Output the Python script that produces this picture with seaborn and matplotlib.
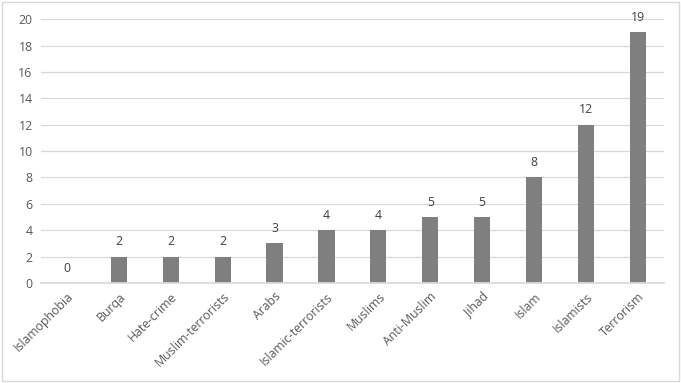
import matplotlib
matplotlib.use("Agg")
import matplotlib.pyplot as plt
import seaborn as sns
import pandas as pd
from matplotlib.patches import Rectangle

categories = ["Islamophobia", "Burqa", "Hate-crime", "Muslim-terrorists", "Arabs",
              "Islamic-terrorists", "Muslims", "Anti-Muslim", "Jihad", "Islam",
              "Islamists", "Terrorism"]
values = [0, 2, 2, 2, 3, 4, 4, 5, 5, 8, 12, 19]
yticks = [0, 2, 4, 6, 8, 10, 12, 14, 16, 18, 20]

df = pd.DataFrame({"term": categories, "count": values})

sns.set_theme(style="white")
plt.rcParams['font.family'] = ['Open Sans', 'DejaVu Sans']

fig = plt.figure(figsize=(6.81, 3.83), dpi=100)
ax = fig.add_axes([0.060, 0.261, 0.915, 0.689])

sns.barplot(data=df, x="term", y="count", color="#7f7f7f", width=0.31,
            saturation=1, ax=ax, edgecolor="none")

ax.set_ylim(0, 20)
ax.set_yticks(yticks)
ax.set_yticklabels([str(t) for t in yticks], fontsize=8.8, color="#595959")
ax.set_xlim(-0.5, len(categories) - 0.5)
ax.set_xticks(range(len(categories)))
ax.set_xticklabels(categories, rotation=45, ha="right", rotation_mode="anchor",
                   fontsize=8.8, color="#595959")
ax.tick_params(axis="both", length=0, pad=6)
ax.tick_params(axis="x", pad=5)
ax.yaxis.grid(True, color="#d9d9d9", linewidth=0.9)
ax.set_axisbelow(True)
for s in ["top", "right", "left"]:
    ax.spines[s].set_visible(False)
ax.spines["bottom"].set_color("#d9d9d9")
ax.set_xlabel("")
ax.set_ylabel("")

for i, v in enumerate(values):
    ax.annotate(str(v), (i, v), xytext=(0, 6), textcoords="offset points",
                ha="center", va="bottom", fontsize=8.8, color="#404040")

fig.patches.append(Rectangle((0.003, 0.004), 0.994, 0.992, transform=fig.transFigure,
                             fill=False, edgecolor="#d9d9d9", linewidth=1))

fig.savefig("out.png", dpi=100)
